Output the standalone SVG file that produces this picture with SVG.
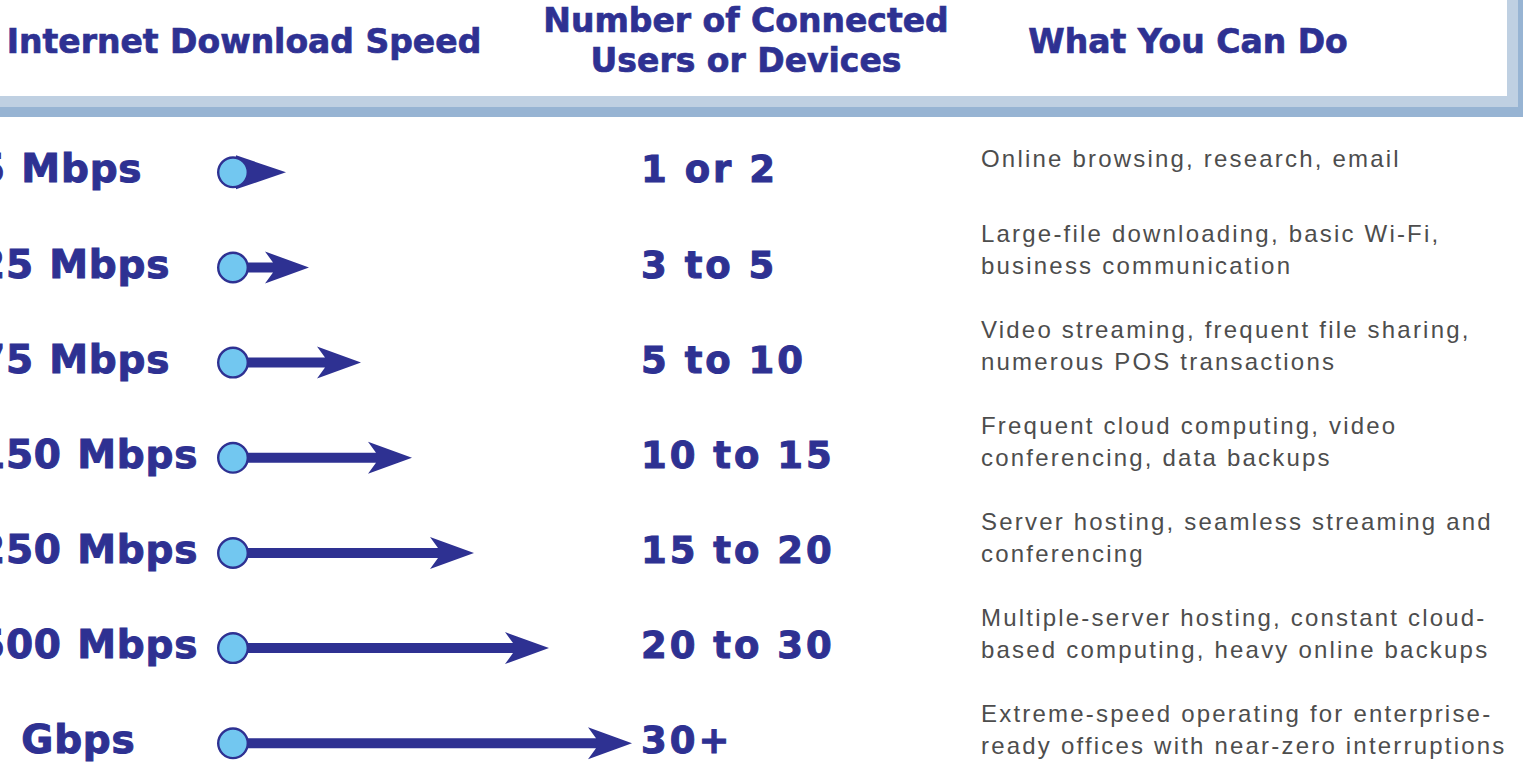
<svg xmlns="http://www.w3.org/2000/svg" width="1523" height="766" viewBox="0 0 1523 766">
<style>
.hd{font-family:"DejaVu Sans","Liberation Sans",sans-serif;font-weight:bold;font-size:33px;fill:#2e3192;stroke:#2e3192;stroke-width:0.7px;text-anchor:middle}
.sp{font-family:"DejaVu Sans","Liberation Sans",sans-serif;font-weight:bold;font-size:39px;fill:#2e3192;stroke:#2e3192;stroke-width:1px;letter-spacing:0.8px;word-spacing:1px}
.ct{font-family:"DejaVu Sans","Liberation Sans",sans-serif;font-weight:bold;font-size:37px;fill:#2e3192;stroke:#2e3192;stroke-width:1px;letter-spacing:3px;word-spacing:-1px}
.ds{font-family:"Liberation Sans",Arial,sans-serif;font-size:24px;fill:#4d4d4d;letter-spacing:2.2px}
.dot{fill:#72c7f0;stroke:#2e3192;stroke-width:2.4}
.arr{fill:#2e3192}
</style>
<rect width="1523" height="766" fill="#ffffff"/>
<g id="header">
<rect x="-20" y="-20" width="1563" height="137" fill="#97b4d3"/>
<rect x="-20" y="-20" width="1538" height="127" fill="#bfd0e2"/>
<rect x="-20" y="-20" width="1527" height="116" fill="#ffffff"/>
<text class="hd" x="244" y="53">Internet Download Speed</text>
<text class="hd" x="746" y="32">Number of Connected</text>
<text class="hd" x="746" y="72">Users or Devices</text>
<text class="hd" x="1188" y="53">What You Can Do</text>
</g>
<g id="connectors">
<path class="arr" d="M236,155.3 L286,172.3 L236,189.3 Z"/>
<path class="arr" d="M233,262.5 L273,262.5 L265,251.5 L309,267.5 L265,283.5 L273,272.5 L233,272.5 Z"/>
<path class="arr" d="M233,357.6 L325,357.6 L317,346.6 L361,362.6 L317,378.6 L325,367.6 L233,367.6 Z"/>
<path class="arr" d="M233,452.8 L376,452.8 L368,441.8 L412,457.8 L368,473.8 L376,462.8 L233,462.8 Z"/>
<path class="arr" d="M233,548 L438,548 L430,537 L474,553 L430,569 L438,558 L233,558 Z"/>
<path class="arr" d="M233,643.1 L513,643.1 L505,632.1 L549,648.1 L505,664.1 L513,653.1 L233,653.1 Z"/>
<path class="arr" d="M233,738.3 L596,738.3 L588,727.3 L632,743.3 L588,759.3 L596,748.3 L233,748.3 Z"/>
</g>
<g id="row1">
<text class="sp" x="-22" y="182.3">5 Mbps</text>
<circle class="dot" cx="233" cy="172.3" r="14.8"/>
<text class="ct" x="641" y="182.3">1 or 2</text>
<text class="ds" x="981" y="167">Online browsing, research, email</text>
</g>
<g id="row2">
<text class="sp" x="-22" y="277.5">25 Mbps</text>
<circle class="dot" cx="233" cy="267.5" r="14.8"/>
<text class="ct" x="641" y="277.5">3 to 5</text>
<text class="ds" x="981" y="242">Large-file downloading, basic Wi-Fi,</text>
<text class="ds" x="981" y="274">business communication</text>
</g>
<g id="row3">
<text class="sp" x="-22" y="372.6">75 Mbps</text>
<circle class="dot" cx="233" cy="362.6" r="14.8"/>
<text class="ct" x="641" y="372.6">5 to 10</text>
<text class="ds" x="981" y="338">Video streaming, frequent file sharing,</text>
<text class="ds" x="981" y="370">numerous POS transactions</text>
</g>
<g id="row4">
<text class="sp" x="-22" y="467.8">150 Mbps</text>
<circle class="dot" cx="233" cy="457.8" r="14.8"/>
<text class="ct" x="641" y="467.8">10 to 15</text>
<text class="ds" x="981" y="434">Frequent cloud computing, video</text>
<text class="ds" x="981" y="466">conferencing, data backups</text>
</g>
<g id="row5">
<text class="sp" x="-22" y="563">250 Mbps</text>
<circle class="dot" cx="233" cy="553" r="14.8"/>
<text class="ct" x="641" y="563">15 to 20</text>
<text class="ds" x="981" y="530">Server hosting, seamless streaming and</text>
<text class="ds" x="981" y="562">conferencing</text>
</g>
<g id="row6">
<text class="sp" x="-22" y="658.1">500 Mbps</text>
<circle class="dot" cx="233" cy="648.1" r="14.8"/>
<text class="ct" x="641" y="658.1">20 to 30</text>
<text class="ds" x="981" y="626">Multiple-server hosting, constant cloud-</text>
<text class="ds" x="981" y="658">based computing, heavy online backups</text>
</g>
<g id="row7">
<text class="sp" x="-30" y="753.3" style="word-spacing:9px">1 Gbps</text>
<circle class="dot" cx="233" cy="743.3" r="14.8"/>
<text class="ct" x="641" y="753.3">30+</text>
<text class="ds" x="981" y="722">Extreme-speed operating for enterprise-</text>
<text class="ds" x="981" y="754">ready offices with near-zero interruptions</text>
</g>
</svg>
